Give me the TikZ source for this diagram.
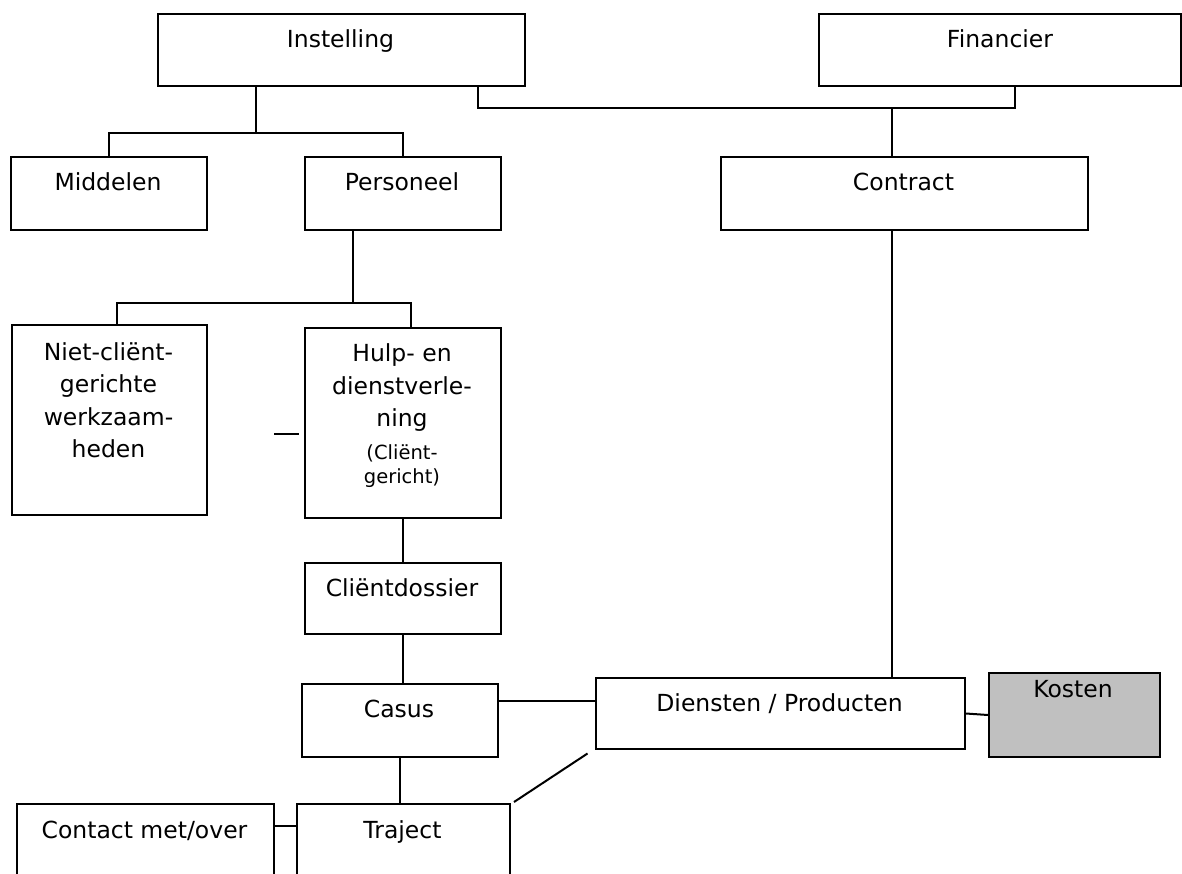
\documentclass[tikz,border=0pt]{standalone}
\usepackage{fontspec}
\setmainfont{DejaVu Sans}
\usetikzlibrary{calc}
\begin{document}
\begin{tikzpicture}[x=1pt,y=-1pt,
  box/.style={draw=black, line width=2pt, rectangle, inner sep=0pt, anchor=north west},
  conn/.style={draw=black, line width=2pt},
  lbl/.style={inner sep=0pt, anchor=base, font=\fontsize{23.5}{32.5}\selectfont},
  small/.style={inner sep=0pt, anchor=base, font=\fontsize{19.5}{24}\selectfont}]
\clip (0,0) rectangle (1182,873);
\fill[white] (0,0) rectangle (1182,873);
% boxes
\node[box, minimum width=367, minimum height=72] (inst) at (157,13) {};
\node[box, minimum width=362, minimum height=72] (fin) at (818,13) {};
\node[box, minimum width=196, minimum height=73] (mid) at (10,156) {};
\node[box, minimum width=196, minimum height=73] (pers) at (304,156) {};
\node[box, minimum width=367, minimum height=73] (contr) at (720,156) {};
\node[box, minimum width=195, minimum height=190] (niet) at (11,324) {};
\node[box, minimum width=196, minimum height=190] (hulp) at (304,327) {};
\node[box, minimum width=196, minimum height=71] (cd) at (304,562) {};
\node[box, minimum width=196, minimum height=73] (casus) at (301,683) {};
\node[box, minimum width=369, minimum height=71] (dien) at (595,677) {};
\node[box, minimum width=171, minimum height=84, fill={rgb,255:red,192;green,192;blue,192}] (kost) at (988,672) {};
\node[box, minimum width=257, minimum height=120] (contact) at (16,803) {};
\node[box, minimum width=213, minimum height=120] (traj) at (296,803) {};
% labels
\node[lbl] (instT) at (340.5,47) {Instelling};
\node[lbl] (finT) at (1000,47) {Financier};
\node[lbl] (midT) at (108,190.5) {Middelen};
\node[lbl] (persT) at (402,190.5) {Personeel};
\node[lbl] (contrT) at (903.5,190.5) {Contract};
\node[lbl] (nietT) at (108.5,360) {\begin{tabular}[t]{@{}c@{}}Niet-cliënt-\\gerichte\\werkzaam-\\heden\end{tabular}};
\node[lbl] (hulpT) at (402,361.7) {\begin{tabular}[t]{@{}c@{}}Hulp- en\\dienstverle-\\ning\end{tabular}};
\node[small] (hulpS) at (402,459.3) {\begin{tabular}[t]{@{}c@{}}(Cliënt-\\gericht)\end{tabular}};
\node[lbl] (cdT) at (402,596.5) {Cliëntdossier};
\node[lbl] (casusT) at (399,717.5) {Casus};
\node[lbl] (dienT) at (779.5,711.5) {Diensten / Producten};
\node[lbl] (kostT) at (1073,697.5) {Kosten};
\node[lbl] (trajT) at (402.5,838) {Traject};
\node[lbl] (contactT) at (144.5,838) {Contact met/over};
% connectors
\coordinate (j1) at (256.3,133);
\draw[conn] (j1 |- inst.south) -- (j1);
\draw[conn] (mid.north) |- (j1) -| (pers.north);
\coordinate (j2) at (892,108.3);
\draw[conn] ($(inst.south east)+(-48.5,0)$) |- (j2) -| ($(fin.south)+(14.8,0)$);
\draw[conn] (j2) -- (j2 |- contr.north);
\draw[conn] (j2 |- contr.south) -- (j2 |- dien.north);
\coordinate (j3) at (352.6,302.7);
\draw[conn] (j3 |- pers.south) -- (j3);
\draw[conn] ($(niet.north)+(7.5,0)$) |- (j3) -| ($(hulp.north)+(8,0)$);
\coordinate (dashL) at ($(hulp.west)+(-30,11)$);
\coordinate (dashR) at ($(hulp.west)+(-5,11)$);
\draw[conn] (dashL) -- (dashR);
\draw[conn] (hulp.south) -- (cd.north);
\draw[conn] (cd.south) -- (cd.south |- casus.north);
\draw[conn] (casus.south) -- (casus.south |- traj.north);
\coordinate (j4) at (0,701);
\draw[conn] (casus.east |- j4) -- (dien.west |- j4);
\draw[conn] (dien.east) -- (kost.west);
\coordinate (g1) at (514,802);
\coordinate (g2) at (587.5,753.5);
\draw[conn] (g1) -- (g2);
\coordinate (j5) at (0,826);
\draw[conn] (contact.east |- j5) -- (traj.west |- j5);
\end{tikzpicture}
\end{document}
